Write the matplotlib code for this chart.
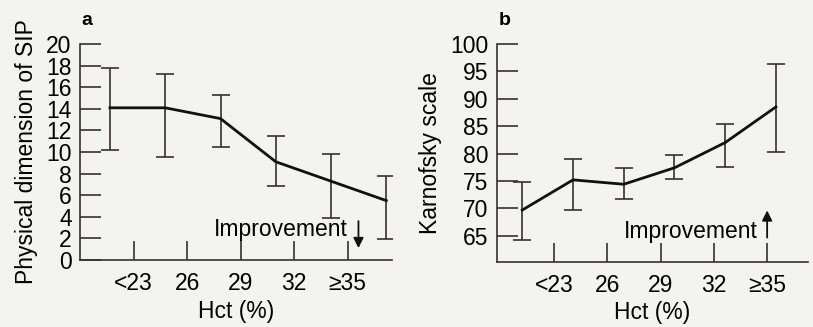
import numpy as np
import matplotlib
matplotlib.use("Agg")
import matplotlib.pyplot as plt

plt.rcParams['font.family'] = ['Liberation Sans', 'DejaVu Sans']

# Hct groups (tick labels sit on the group boundaries)
hct_labels = ["<23", "26", "29", "32", "\u226535"]

# panel a: physical dimension of SIP (mean, lower and upper end of bar)
sip_mean = [14.1, 14.1, 13.1, 9.1, 7.3, 5.5]
sip_low = [10.2, 9.5, 10.5, 6.9, 3.9, 1.9]
sip_high = [17.8, 17.2, 15.3, 11.5, 9.8, 7.8]

# panel b: Karnofsky scale
kps_mean = [69.7, 75.2, 74.4, 77.4, 82.0, 88.5]
kps_low = [64.2, 69.7, 71.7, 75.4, 77.5, 80.3]
kps_high = [74.9, 79.0, 77.3, 79.8, 85.4, 96.4]

bg = "#f3f3f1"
dark = "#3b2f2f"
fs = 16.5

fig = plt.figure(figsize=(8.13, 3.27), dpi=100, facecolor=bg)
ax_a = fig.add_axes([0.0984, 0.205, 0.384, 0.66])
ax_b = fig.add_axes([0.611, 0.200, 0.383, 0.666])


def draw_panel(ax, xpos, mean, low, high, ylim, yticks, ylabel, letter, arrow_up, xtxt):
    mean = np.array(mean)
    yerr = [mean - np.array(low), np.array(high) - mean]
    ax.set_facecolor(bg)
    ax.errorbar(xpos, mean, yerr=yerr, fmt='none', ecolor=dark, elinewidth=1.2,
                capsize=6.5, capthick=1.2)
    ax.plot(xpos, mean, color='#111111', lw=2.0)
    ax.set_ylim(*ylim)
    ax.set_yticks(yticks)
    ax.set_xticks(range(1, 6))
    ax.set_xticklabels(hct_labels)
    for s in ['top', 'right']:
        ax.spines[s].set_visible(False)
    for s in ['left', 'bottom']:
        ax.spines[s].set_color(dark)
        ax.spines[s].set_linewidth(1.2)
    ax.spines['left'].set_bounds(ylim[0], yticks[-1])
    ax.tick_params(axis='y', direction='in', length=15, width=1.2, color=dark,
                   labelsize=fs, pad=6)
    ax.tick_params(axis='x', direction='in', length=14, width=1.2, color=dark,
                   labelsize=fs, pad=9)
    ax.set_xlabel("Hct (%)", fontsize=fs, labelpad=3)
    ax.set_ylabel(ylabel, fontsize=fs, labelpad=6)
    ax.text(0.005, 1.07, letter, transform=ax.transAxes, fontsize=14,
            fontweight='bold', ha='left', va='bottom')
    # Improvement note with arrow next to the last tick
    ytxt = ylim[0] + 0.14 * (ylim[1] - ylim[0])
    ax.text(xtxt, ytxt, "Improvement", fontsize=fs, ha='right', va='center')
    span = 0.1 * (ylim[1] - ylim[0])
    if arrow_up:
        ax.annotate("", xy=(5.0, ytxt + span * 0.95), xytext=(5.0, ytxt - span * 0.3),
                    arrowprops=dict(arrowstyle='-|>', color='#111111', lw=1.3,
                                    mutation_scale=15, shrinkA=0, shrinkB=0))
    else:
        ax.annotate("", xy=(5.2, ytxt - span * 0.85), xytext=(5.2, ytxt + span * 0.4),
                    arrowprops=dict(arrowstyle='-|>', color='#111111', lw=1.3,
                                    mutation_scale=15, shrinkA=0, shrinkB=0))


xa = 0.56 + 1.032 * np.arange(6)
draw_panel(ax_a, xa, sip_mean, sip_low, sip_high, (0, 20), np.arange(0, 21, 2),
           "Physical dimension of SIP", "a", arrow_up=False, xtxt=5.0)
ax_a.set_xlim(0, 5.83)

xb = 0.40 + 0.953 * np.arange(6)
draw_panel(ax_b, xb, kps_mean, kps_low, kps_high, (60.3, 100), np.arange(65, 101, 5),
           "Karnofsky scale", "b", arrow_up=True, xtxt=4.82)
ax_b.set_xlim(-0.08, 5.77)

fig.savefig("out.png", dpi=100, facecolor=bg)
